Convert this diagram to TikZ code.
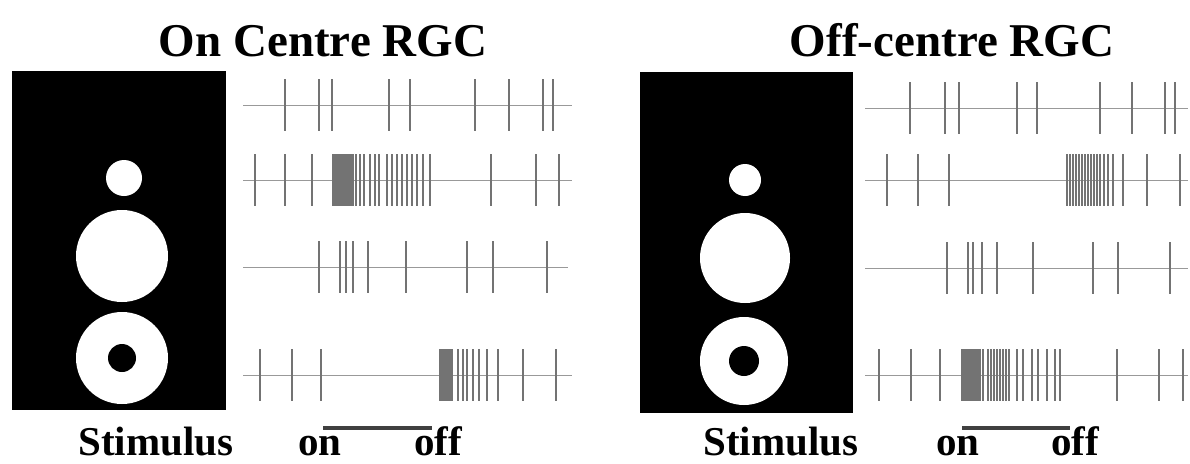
\documentclass[tikz,border=0pt]{standalone}
\usepackage{fontspec}
\setmainfont{Liberation Serif}
\usetikzlibrary{positioning}

\newcommand{\spiketrain}[4]{%
  \draw[trace] (#1,#3) -- (#2,#3);
  \foreach \s in {#4} \draw[spike] (\s,#3-26) -- (\s,#3+26);}

\begin{document}
\begin{tikzpicture}[x=1pt,y=-1pt]
  \tikzstyle{heading}=[font=\bfseries\fontsize{47}{50}\selectfont,inner sep=0pt,anchor=base]
  \tikzstyle{stimtext}=[font=\bfseries\fontsize{41}{44}\selectfont,inner sep=0pt,anchor=base]
  \tikzstyle{trace}=[draw=black!40,line width=1pt]
  \tikzstyle{spike}=[draw=black!55,line width=1.3pt]
  \tikzstyle{bar}=[draw=black!75,line width=4pt]
  \useasboundingbox (0,0) rectangle (1190,463);

  % titles
  \node[heading] (ontitle) at (323,56) {On Centre RGC};
  \node[heading] (offtitle) at (952,56) {Off-centre RGC};

  % on centre receptive field
  \fill (12,71) rectangle (226,410);
  \fill[white] (124,178) circle (18);
  \fill[white] (122,256) circle (46);
  \fill[white] (122,358) circle (46);
  \fill (122,358) circle (14);

  % off centre receptive field
  \fill (640,72) rectangle (853,413);
  \fill[white] (745,180) circle (16);
  \fill[white] (745,258) circle (45);
  \fill[white] (744,361) circle (44);
  \fill (744,361) circle (15);

  % on centre responses
  \spiketrain{243}{572}{105}{285,319,332,389,410,475,509,543,553}
  \spiketrain{243}{572}{180}{255,285,312,333,335,337,339,341,343,345,347,349,351,353,356,360,364,370,375,379,387,392,397,402,407,412,417,423,430,491,536,559}
  \spiketrain{243}{568}{267}{319,340,346,353,368,406,467,493,547}
  \spiketrain{243}{572}{375}{260,292,321,440,442,444,446,448,450,452,458,463,467,473,479,487,498,523,556}

  % off centre responses
  \spiketrain{865}{1188}{108}{910,945,959,1017,1037,1100,1132,1165,1175}
  \spiketrain{865}{1188}{180}{887,918,949,1067,1070,1073,1076,1079,1082,1085,1088,1091,1094,1097,1100,1104,1108,1113,1123,1147,1180}
  \spiketrain{865}{1188}{268}{947,968,973,982,997,1033,1093,1118,1170}
  \spiketrain{865}{1188}{375}{879,911,940,962,964,966,968,970,972,974,976,978,980,983,988,991,994,997,1000,1003,1006,1009,1017,1023,1032,1038,1047,1055,1060,1117,1159,1183}

  % stimulus timing
  \node[stimtext] (onstim) at (156,455) {Stimulus};
  \node[stimtext] (onon) at (320,455) {on};
  \node[stimtext] (onoff) at (438,455) {off};
  \draw[bar] (323,428) -- (432,428);

  \node[stimtext] (offstim) at (781,455) {Stimulus};
  \node[stimtext] (offon) at (958,455) {on};
  \node[stimtext] (offoff) at (1075,455) {off};
  \draw[bar] (962,428) -- (1070,428);
\end{tikzpicture}
\end{document}
